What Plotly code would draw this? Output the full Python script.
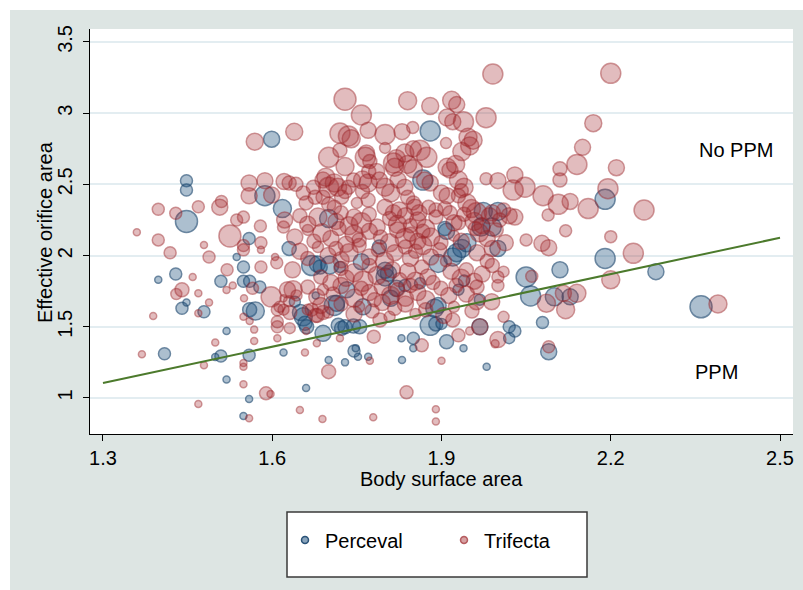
import plotly.graph_objects as go

# ---------------- data ----------------
# Perceval: body surface area, effective orifice area, bubble weight
perceval_bsa = [1.448,1.448,1.448,1.599,1.587,1.618,1.398,1.429,1.440,1.448,
 1.479,1.409,1.509,1.509,1.499,1.519,1.519,1.537,1.549,1.549,
 1.560,1.559,1.560,1.570,1.559,1.559,1.549,1.578,1.620,1.630,
 1.660,1.670,1.680,1.685,1.702,1.720,1.640,1.650,1.655,1.658,
 1.661,1.677,1.690,1.700,1.700,1.710,1.714,1.717,1.723,1.729,
 1.732,1.729,1.745,1.748,1.752,1.744,1.755,1.758,1.770,1.790,
 1.800,1.806,1.810,1.829,1.850,1.850,1.830,1.835,1.820,1.862,
 1.867,1.880,1.880,1.890,1.900,1.888,1.894,1.909,1.939,1.909,
 1.894,1.920,1.927,1.936,1.945,1.906,1.930,1.968,1.968,1.974,
 2.000,1.970,1.990,1.980,2.020,2.030,2.020,2.050,2.058,2.079,
 2.090,2.110,2.100,2.128,2.190,2.190,2.280,2.360,2.000,1.940,
 1.761,1.800]
perceval_eoa = [2.526,2.460,2.240,2.817,2.420,2.330,1.830,1.870,1.630,1.670,
 1.606,1.310,1.820,1.295,1.288,1.470,1.130,1.990,1.920,1.820,
 1.820,2.120,1.620,1.610,1.300,0.993,0.874,1.780,1.320,2.050,
 1.070,1.930,1.940,1.920,1.934,1.920,1.676,1.600,1.570,1.525,
 1.500,1.720,1.454,2.260,1.267,1.650,1.665,1.510,1.490,1.500,
 1.760,1.250,1.330,1.350,1.290,1.505,1.500,1.957,1.290,2.060,
 1.850,1.875,1.700,1.420,1.420,1.350,1.267,1.790,1.770,1.805,
 2.530,2.875,1.510,1.520,1.520,1.630,1.650,1.395,1.350,2.170,
 1.945,1.990,2.020,2.050,2.090,2.190,1.760,1.690,1.500,2.310,
 2.310,2.200,2.200,1.220,1.500,1.470,1.420,1.850,1.716,1.530,
 1.325,1.900,1.710,1.710,2.395,1.980,1.887,1.640,2.050,1.825,
 1.640,1.897]
perceval_w = [6,6,11,8,10,9,3.5,6,6,3.5,
 6,6,6,6,3.5,3.5,3.5,3.5,6,6,
 6,6,7,9,6,3.5,3.5,6,3.5,7,
 3.5,10,8,7,9,5.5,5.5,8,9,7,
 7,3.5,8,9,3.5,10,8,7,7,7,
 8,3.5,6,3.5,3.5,7,7,8,3.5,7,
 9,8,8,3.5,6,3.5,3.5,6,8,5.5,
 10,10,10,7,5.5,9,8,7,3.5,8,
 9,9,9,9,9,7,5.5,5.5,8,9,
 9,9,9,3.5,6,6,5.5,10,10,6,
 8,8,9,8,10,10,8,11,8,5.5,
 8,8]

# Trifecta: sparse / outer points
trif_outer_bsa = [1.991,2.200,1.729,1.758,1.840,1.880,1.918,1.927,1.979,2.169,
 1.639,1.569,2.150,2.140,2.210,2.110,2.110,2.195,2.259,2.160,
 2.128,2.107,2.120,2.200,2.240,2.200,2.390,2.120,2.140,2.116,
 2.086,2.090,2.078,2.090,2.060,2.050,2.080,2.048,2.030,2.000,
 1.979,2.027,2.030,2.089,2.010,2.000,2.000,2.010,1.962,1.989,
 1.968,2.000,1.995,1.950,1.900,1.890,1.890,1.838,1.865,1.779,
 1.773,1.780,1.700,1.689,1.649,1.589,1.597,1.559,1.549,1.549,
 1.549,1.469,1.479,1.499,1.369,1.389,1.360,1.398,1.398,1.419,
 1.429,1.430,1.440,1.459,1.469,1.469,1.469,1.479,1.488,1.488,
 1.507,1.510,1.520,1.519,1.525,1.530,1.537,1.549,1.549,1.549,
 1.550,1.549,1.559,1.559,1.560,1.565,1.568,1.568,1.579,1.580,
 1.580,1.580,1.587,1.598,1.599,1.605,1.608,1.609,1.609,1.609,
 1.609,1.620,1.620,1.621,1.637,1.620,1.630,1.631,1.658,1.679,
 1.720,1.791,1.930,1.920,1.670,1.680,1.690,1.660]
trif_outer_eoa = [3.275,3.280,3.098,2.987,3.088,3.050,3.090,3.060,2.968,2.930,
 2.870,2.800,2.760,2.640,2.617,2.610,2.530,2.470,2.320,2.330,
 2.380,2.360,2.175,2.133,2.016,1.830,1.660,1.620,1.735,1.735,
 1.665,2.055,2.086,1.360,1.855,2.110,2.420,2.480,2.566,2.526,
 2.540,2.460,2.270,2.285,1.887,1.790,1.850,1.570,1.676,1.676,
 1.500,1.410,1.380,1.470,1.262,0.920,0.834,1.040,1.370,0.865,
 1.262,1.430,1.185,0.853,0.916,1.033,1.028,0.857,1.096,1.220,
 1.245,0.958,1.230,1.390,1.307,1.576,2.163,2.325,2.110,2.020,
 2.297,1.730,1.760,1.850,1.735,2.343,1.595,2.074,1.990,1.670,
 2.340,2.380,1.900,1.758,2.138,1.790,2.250,2.270,2.040,2.070,
 1.700,1.570,2.510,2.420,1.540,1.770,1.480,1.400,2.208,2.090,
 2.040,1.920,2.526,1.710,2.425,1.990,1.950,1.620,1.500,1.535,
 1.420,2.200,1.700,2.520,1.760,1.620,1.680,1.490,1.320,1.384,
 1.420,1.548,1.440,1.548,1.620,1.580,1.600,1.470]
trif_outer_w = [10,10,11,10,9,8.5,9,8,10,8.5,
 8.5,8.5,8,10,8,7,7,10,10,10,
 8,10,6,6,10,9,9,9,9,8,
 9,8,8,6,6,6,10,10,8,8,
 6,10,8,6,5.5,6,6,5.5,8,8,
 8,8,4,4,3.5,3.5,3.5,6.5,6.5,3.5,
 3.5,6.5,7,3.5,3.5,6.5,3.5,3.5,3.5,3.5,
 3.5,3.5,3.5,3.5,3.5,3.5,3.5,6,6,6,
 6,5.5,7,3.5,3.5,6,3.5,3.5,6,3.5,
 8,6,6,3.5,11,3.5,6,6,6,6,
 3.5,3.5,8,8,3.5,6,3.5,3.5,6,6,
 3.5,6,8,10,8,3.5,6,6,6,6,
 3.5,6,3.5,8,9,5.5,5.5,5.5,3.5,3.5,
 3.5,7,6.5,7,6.5,7,7,3.5]

# Trifecta: upper part of the main cluster
trif_upper_bsa = [1.720,1.735,1.740,1.770,1.800,1.830,1.849,1.910,1.920,1.939,
 1.947,1.956,1.908,1.800,1.767,1.765,1.700,1.720,1.820,1.835,
 1.850,1.862,1.874,1.936,1.950,1.910,1.915,1.925,1.840,1.850,
 1.815,1.817,1.773,1.771,1.729,1.690,1.695,1.700,1.710,1.716,
 1.735,1.744,1.760,1.770,1.785,1.790,1.800,1.810,1.823,1.835,
 1.870,1.880,1.900,1.910,1.930,1.940,1.945,1.953,1.962,1.630,
 1.642,1.655,1.660,1.673,1.676,1.690,1.700,1.710,1.723,1.729,
 1.750,1.760,1.770,1.800,1.815,1.825,1.840,1.850,1.853,1.860,
 1.877,1.890,1.906,1.915,1.930,1.935,1.930,1.960,1.990,2.010,
 2.020]
trif_upper_eoa = [2.860,2.840,2.820,2.880,2.850,2.870,2.900,2.970,2.940,2.940,
 2.830,2.810,2.790,2.756,2.720,2.690,2.690,2.740,2.680,2.720,
 2.750,2.740,2.690,2.730,2.770,2.620,2.600,2.640,2.640,2.610,
 2.650,2.620,2.660,2.590,2.625,2.530,2.550,2.480,2.510,2.480,
 2.480,2.530,2.530,2.510,2.590,2.530,2.480,2.440,2.530,2.480,
 2.530,2.510,2.440,2.420,2.530,2.480,2.370,2.330,2.300,2.510,
 2.500,2.440,2.370,2.480,2.410,2.410,2.360,2.340,2.410,2.450,
 2.370,2.450,2.390,2.340,2.300,2.320,2.410,2.370,2.340,2.300,
 2.340,2.320,2.330,2.300,2.420,2.455,2.230,2.190,2.300,2.320,
 2.280]
trif_upper_w = [10,10,9,8,10,8,6,8.5,8,10,
 9,9,5.5,5.5,8,10,10,7,9,9,
 8,10,10,9,9,9,8,9,9,9,
 10,9,7,7,9,8,9,10,9,9,
 7,7,9,9,8,8,9,9,8,8,
 8,8,8,8,9,9,9,9,10,7,
 7,7,7,7,7,7,7,7,7,7,
 5.5,7,7,8,8,8,7,7,8,8,
 7,7,7,7,7,7,7,7,8,7,
 8]

# Trifecta: core of the main cluster (EOA about 1.55 to 2.3)
trif_core_bsa = [1.622,1.649,1.663,1.681,1.713,1.722,1.736,1.745,1.758,1.772,1.786,1.808,1.822,1.836,1.845,1.858,1.872,1.890,1.922,1.940,1.958,1.972,1.985,2.003,
 1.640,1.663,1.674,1.688,1.704,1.718,1.731,1.745,1.754,1.772,1.792,1.808,1.822,1.836,1.845,1.858,1.867,1.881,1.899,1.922,1.935,1.967,1.981,1.997,2.013,
 1.649,1.663,1.681,1.699,1.713,1.722,1.736,1.754,1.772,1.788,1.799,1.817,1.836,1.845,1.854,1.867,1.881,1.897,1.908,1.963,1.981,1.990,
 1.636,1.686,1.704,1.722,1.731,1.745,1.761,1.772,1.786,1.813,1.826,1.840,1.854,1.865,1.876,1.885,1.917,1.935,1.944,1.958,1.972,1.990,
 1.627,1.643,1.663,1.679,1.690,1.708,1.722,1.745,1.758,1.772,1.781,1.795,1.810,1.822,1.836,1.845,1.858,1.872,1.899,1.913,1.926,1.944,1.963,
 1.613,1.631,1.663,1.677,1.686,1.699,1.722,1.745,1.754,1.777,1.795,1.808,1.817,1.836,1.854,1.872,1.904,1.922,1.954]
trif_core_eoa = [2.25,2.28,2.22,2.27,2.24,2.30,2.21,2.27,2.23,2.29,2.20,2.26,2.22,2.28,2.21,2.25,2.19,2.27,2.23,2.29,2.24,2.21,2.28,2.25,
 2.13,2.18,2.10,2.16,2.12,2.19,2.08,2.15,2.11,2.17,2.13,2.09,2.18,2.12,2.15,2.10,2.17,2.13,2.09,2.14,2.10,2.16,2.12,2.18,2.09,
 2.03,1.98,2.06,2.00,2.05,1.97,2.02,2.07,1.99,2.04,1.96,2.02,2.06,1.98,2.03,2.07,1.99,2.04,1.96,2.02,1.96,2.05,
 1.90,1.85,1.81,1.91,1.84,1.88,1.82,1.93,1.86,1.90,1.83,1.89,1.82,1.92,1.85,1.81,1.89,1.84,1.90,1.82,1.87,1.93,
 1.76,1.72,1.78,1.71,1.76,1.73,1.79,1.70,1.77,1.74,1.69,1.78,1.72,1.76,1.70,1.79,1.74,1.69,1.77,1.72,1.79,1.73,1.78,
 1.64,1.60,1.62,1.58,1.65,1.60,1.66,1.59,1.64,1.61,1.67,1.57,1.63,1.66,1.59,1.62,1.58,1.64,1.61]
trif_core_w = [8,7,8,9,8,7,9,8,10,7,8,7,9,8,7,8,9,7,8,7,9,8,8,7,
 8,5.5,7,9,8,7,8,9,7,8,7,9,8,10,7,8,7,9,7,5.5,8,9,8,7,8,
 8,7,5.5,8,7,8,9,7,8,7,9,8,7,8,7,9,8,7,5.5,8,7,8,
 8,7,8,7,8,9,10,7,9,8,7,8,9,7,8,7,8,9,7,8,8,7,
 8,5.5,7,8,5.5,7,8,9,7,8,7,8,9,7,8,7,8,9,7,8,7,8,7,
 5.5,7,5.5,7,8,5.5,7,8,5.5,7,8,5.5,7,8,5.5,7,8,5.5,7]

trifecta_bsa = trif_outer_bsa + trif_upper_bsa + trif_core_bsa
trifecta_eoa = trif_outer_eoa + trif_upper_eoa + trif_core_eoa
trifecta_w = trif_outer_w + trif_upper_w + trif_core_w

# PPM threshold line: EOA = 0.85 * BSA
line_bsa = [1.3, 2.5]
line_eoa = [1.105, 2.125]

x_ticks = [1.3, 1.6, 1.9, 2.2, 2.5]
y_ticks = [1, 1.5, 2, 2.5, 3, 3.5]

# ---------------- styling ----------------
FONT = "Liberation Sans, Arial, Helvetica, sans-serif"
BG = "#dde5e3"
BLUE_FILL = "rgba(28,80,126,0.52)"
BLUE_LINE = "rgba(24,68,108,0.9)"
RED_FILL = "rgba(165,40,45,0.44)"
RED_LINE = "rgba(155,35,40,0.68)"

W, H = 803, 590
L, R, T, B = 90, 10, 29, 156
pw, ph = W - L - R, H - T - B

def px_to_paper_x(px):
    return (px - L) / pw

def px_to_paper_y(py):
    return (H - B - py) / ph

fig = go.Figure()

fig.add_trace(go.Scatter(
    x=perceval_bsa, y=perceval_eoa, mode="markers", showlegend=False,
    marker=dict(size=perceval_w, sizemode="diameter", sizeref=0.5,
                color=BLUE_FILL, line=dict(color=BLUE_LINE, width=1.5)),
    hoverinfo="skip"))
fig.add_trace(go.Scatter(
    x=trifecta_bsa, y=trifecta_eoa, mode="markers", showlegend=False,
    marker=dict(size=trifecta_w, sizemode="diameter", sizeref=0.5,
                color=RED_FILL, line=dict(color=RED_LINE, width=1.5)),
    hoverinfo="skip"))
fig.add_trace(go.Scatter(
    x=line_bsa, y=line_eoa, mode="lines", showlegend=False,
    line=dict(color="#4c7a2c", width=2), hoverinfo="skip"))

# legend entries
fig.add_trace(go.Scatter(
    x=[None], y=[None], mode="markers", name="Perceval", legend="legend",
    marker=dict(size=7, color=BLUE_FILL, line=dict(color=BLUE_LINE, width=1.5))))
fig.add_trace(go.Scatter(
    x=[None], y=[None], mode="markers", name="Trifecta", legend="legend2",
    marker=dict(size=7, color=RED_FILL, line=dict(color=RED_LINE, width=1.5))))

shapes = [
    # white strips outside the grey frame (top and left)
    dict(type="rect", xref="paper", yref="paper", layer="below",
         x0=px_to_paper_x(-5), x1=px_to_paper_x(10), y0=px_to_paper_y(600), y1=px_to_paper_y(-5),
         fillcolor="white", line=dict(width=0)),
    dict(type="rect", xref="paper", yref="paper", layer="below",
         x0=px_to_paper_x(-5), x1=px_to_paper_x(810), y0=px_to_paper_y(10), y1=px_to_paper_y(-5),
         fillcolor="white", line=dict(width=0)),
    # legend box
    dict(type="rect", xref="paper", yref="paper", layer="below",
         x0=px_to_paper_x(287), x1=px_to_paper_x(587), y0=px_to_paper_y(577), y1=px_to_paper_y(512),
         fillcolor="white", line=dict(color="#3a3a3a", width=1.5)),
]

annotations = [
    dict(text="No PPM", x=2.422, y=2.742, xref="x", yref="y", showarrow=False,
         font=dict(size=20, color="black", family=FONT)),
    dict(text="PPM", x=2.387, y=1.183, xref="x", yref="y", showarrow=False,
         font=dict(size=20, color="black", family=FONT)),
    dict(text="Body surface area", x=px_to_paper_x(441), y=px_to_paper_y(479),
         xref="paper", yref="paper", showarrow=False, xanchor="center", yanchor="middle",
         font=dict(size=20, color="black", family=FONT)),
    dict(text="Effective orifice area", x=px_to_paper_x(45), y=px_to_paper_y(232),
         xref="paper", yref="paper", showarrow=False, xanchor="center", yanchor="middle",
         textangle=-90, font=dict(size=20, color="black", family=FONT)),
]

fig.update_layout(
    width=W, height=H,
    margin=dict(l=L, r=R, t=T, b=B, pad=0),
    paper_bgcolor=BG, plot_bgcolor="white",
    font=dict(family=FONT, size=20, color="black"),
    shapes=shapes, annotations=annotations,
    hovermode=False,
    legend=dict(x=px_to_paper_x(285), y=px_to_paper_y(540), xanchor="left", yanchor="middle",
                bgcolor="rgba(0,0,0,0)", borderwidth=0,
                font=dict(size=20, family=FONT, color="black")),
    legend2=dict(x=px_to_paper_x(444), y=px_to_paper_y(540), xanchor="left", yanchor="middle",
                 bgcolor="rgba(0,0,0,0)", borderwidth=0,
                 font=dict(size=20, family=FONT, color="black")),
)

fig.update_xaxes(
    range=[1.277, 2.523], tickvals=x_ticks, ticktext=[str(v) for v in x_ticks],
    showgrid=False, zeroline=False, showline=True, linecolor="black", linewidth=1,
    ticks="outside", ticklen=6, tickcolor="black", tickwidth=1,
    tickfont=dict(size=20, family=FONT, color="black"))
fig.update_yaxes(
    range=[0.747, 3.591], tickvals=y_ticks, ticktext=[f"{v:g}" for v in y_ticks],
    showgrid=True, gridcolor="#e3edf1", gridwidth=1.5, zeroline=False,
    showline=True, linecolor="black", linewidth=1,
    ticks="outside", ticklen=6, tickcolor="black", tickwidth=1, tickangle=-90,
    ticklabelstandoff=3,
    tickfont=dict(size=20, family=FONT, color="black"))

fig.write_html("out.html")
